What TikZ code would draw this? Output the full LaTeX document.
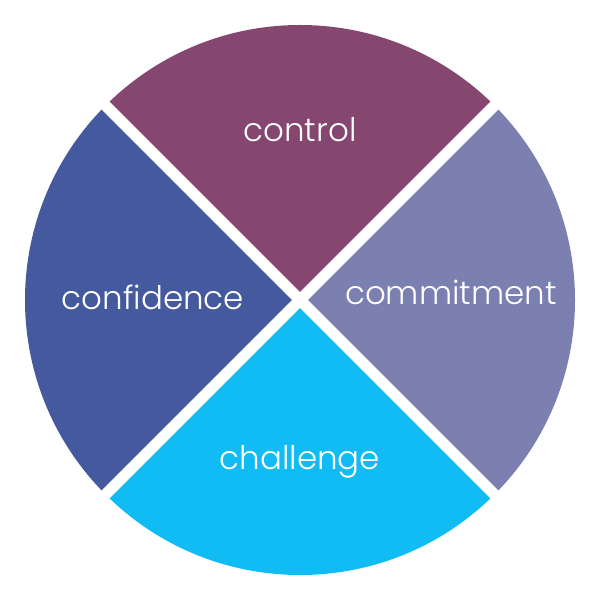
\documentclass[tikz,border=0pt]{standalone}
\usepackage{fontspec}
\setmainfont{Poppins Light}
\usetikzlibrary{positioning}
\definecolor{controlc}{HTML}{85466F}
\definecolor{commitc}{HTML}{7B80B0}
\definecolor{challc}{HTML}{11BBF3}
\definecolor{confc}{HTML}{455A9E}
\tikzset{four C/.style={text=white,font=\fontsize{32.5}{38}\selectfont}}

\begin{document}
\begin{tikzpicture}[x=1pt,y=1pt]
	\useasboundingbox (0,0) rectangle (600,600);
	\coordinate (c) at (300,300);
	
	\fill[controlc] (c) -- ++(45:275) arc (45:135:275) -- cycle;
	\fill[confc] (c) -- ++(135:275) arc (135:225:275) -- cycle;
	\fill[challc] (c) -- ++(225:275) arc (225:315:275) -- cycle;
	\fill[commitc] (c) -- ++(315:275) arc (315:405:275) -- cycle;
	
	\draw[white, line width=11pt] (c) ++(45:290) -- ++(225:580);
	\draw[white, line width=11pt] (c) ++(135:290) -- ++(315:580);
	
	\node[four C] (control) at (300,470) {control};
	\node[four C] (commitment) at (451,308) {commitment};
	\node[four C] (confidence) at (153,303) {confidence};
	\node[four C] (challenge) at (300,138) {challenge};
\end{tikzpicture}
\end{document}
